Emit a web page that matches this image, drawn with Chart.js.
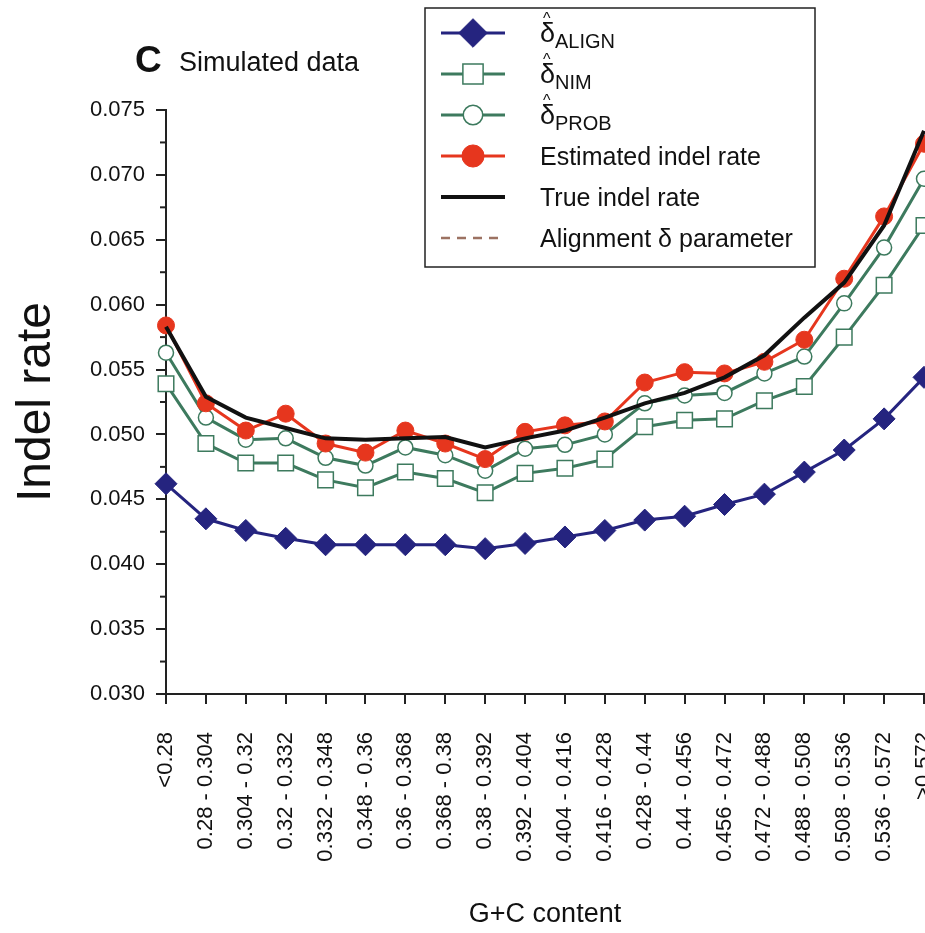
<!DOCTYPE html>
<html lang="en">
<head>
  <meta charset="UTF-8">
  <title>Indel rate vs G+C content (simulated data)</title>
  <script src="https://cdn.jsdelivr.net/npm/chart.js"></script>
  <style>
    body { margin: 0; background: #fff; }
    #wrap { width: 925px; height: 933px; }
  </style>
</head>
<body>
<div id="wrap"><canvas id="myChart" width="925" height="933"></canvas></div>

<script>
  // G+C content bins
  var gcBins = ['<0.28', '0.28 - 0.304', '0.304 - 0.32', '0.32 - 0.332', '0.332 - 0.348',
    '0.348 - 0.36', '0.36 - 0.368', '0.368 - 0.38', '0.38 - 0.392', '0.392 - 0.404',
    '0.404 - 0.416', '0.416 - 0.428', '0.428 - 0.44', '0.44 - 0.456', '0.456 - 0.472',
    '0.472 - 0.488', '0.488 - 0.508', '0.508 - 0.536', '0.536 - 0.572', '>0.572'];

  // values
  var deltaAlign = [0.0462, 0.0435, 0.0426, 0.0420, 0.0415, 0.0415, 0.0415, 0.0415, 0.0412, 0.0416,
    0.0421, 0.0426, 0.0434, 0.0437, 0.0446, 0.0454, 0.0471, 0.0488, 0.0512, 0.0544];
  var deltaNim = [0.0539, 0.0493, 0.0478, 0.0478, 0.0465, 0.0459, 0.0471, 0.0466, 0.0455, 0.0470,
    0.0474, 0.0481, 0.0506, 0.0511, 0.0512, 0.0526, 0.0537, 0.0575, 0.0615, 0.0661];
  var deltaProb = [0.0563, 0.0513, 0.0496, 0.0497, 0.0482, 0.0476, 0.0490, 0.0484, 0.0472, 0.0489,
    0.0492, 0.0500, 0.0524, 0.0530, 0.0532, 0.0547, 0.0560, 0.0601, 0.0644, 0.0697];
  var estimatedRate = [0.0584, 0.0524, 0.0503, 0.0516, 0.0493, 0.0486, 0.0503, 0.0493, 0.0481, 0.0502,
    0.0507, 0.0510, 0.0540, 0.0548, 0.0547, 0.0556, 0.0573, 0.0620, 0.0668, 0.0724];
  var trueRate = [0.0583, 0.0529, 0.0513, 0.0505, 0.0497, 0.0496, 0.0497, 0.0498, 0.0490, 0.0497,
    0.0503, 0.0513, 0.0524, 0.0532, 0.0544, 0.0561, 0.0590, 0.0617, 0.0661, 0.0734];
  var alignParam = []; // only shown in the legend

  var yMin = 0.030, yMax = 0.075, yStep = 0.005;

  var FONT = '"Liberation Sans", Arial, Helvetica, sans-serif';
  var BLUE = '#25247f', GREEN = '#3d7a5e', RED = '#e6361e', BLACK = '#111111', BROWN = '#9c7262';

  // legend + panel caption, drawn on top
  var legendBox = {
    id: 'legendBox',
    afterDraw: function(chart) {
      var ctx = chart.ctx;
      ctx.save();
      // panel caption
      ctx.fillStyle = '#111';
      ctx.textBaseline = 'alphabetic';
      ctx.font = 'bold 37px ' + FONT;
      ctx.fillText('C', 135, 72);
      ctx.font = '27px ' + FONT;
      ctx.fillText('Simulated data', 179, 71);

      // box
      ctx.fillStyle = '#fff';
      ctx.fillRect(425, 8, 390, 259);
      ctx.strokeStyle = '#222';
      ctx.lineWidth = 1.5;
      ctx.strokeRect(425, 8, 390, 259);

      var order = [4, 3, 2, 1, 0, 5];
      order.forEach(function(di, row) {
        var ds = chart.data.datasets[di];
        var y = 33 + row * 41;
        ctx.save();
        ctx.strokeStyle = ds.borderColor;
        ctx.lineWidth = ds.borderWidth;
        ctx.setLineDash(ds.borderDash || []);
        ctx.beginPath();
        ctx.moveTo(441, y);
        ctx.lineTo(505, y);
        ctx.stroke();
        ctx.restore();
        if (ds.pointRadius > 0) {
          ctx.save();
          ctx.fillStyle = ds.pointBackgroundColor;
          ctx.strokeStyle = ds.pointBorderColor;
          ctx.lineWidth = ds.pointBorderWidth;
          Chart.helpers.drawPoint(ctx, {
            pointStyle: ds.pointStyle, rotation: 0,
            radius: ds.pointRadius * 1.3, borderWidth: ds.pointBorderWidth
          }, 473, y);
          ctx.restore();
        }
        ctx.fillStyle = '#111';
        if (ds.sub) {
          ctx.font = '27px ' + FONT;
          ctx.fillText('δ', 540, y + 9);
          ctx.font = '16px ' + FONT;
          ctx.fillText('^', 543, y - 9);
          ctx.font = '20px ' + FONT;
          ctx.fillText(ds.sub, 555, y + 15);
        } else {
          ctx.font = '25px ' + FONT;
          ctx.fillText(ds.label, 540, y + 9);
        }
      });
      ctx.restore();
    }
  };

  // minor ticks on the y axis
  var minorTicks = {
    id: 'minorTicks',
    afterDraw: function(chart) {
      var ys = chart.scales.y, ctx = chart.ctx;
      ctx.save();
      ctx.strokeStyle = '#222';
      ctx.lineWidth = 2;
      for (var v = yMin + yStep / 2; v < yMax; v += yStep) {
        var py = ys.getPixelForValue(v);
        ctx.beginPath();
        ctx.moveTo(ys.right - 6, py);
        ctx.lineTo(ys.right, py);
        ctx.stroke();
      }
      ctx.restore();
    }
  };

  var ctx = document.getElementById('myChart').getContext('2d');
  var myChart = new Chart(ctx, {
    type: 'line',
    data: {
      labels: gcBins,
      datasets: [{
        label: 'True indel rate',
        data: trueRate,
        borderColor: BLACK,
        borderWidth: 4,
        pointRadius: 0,
        order: 0
      }, {
        label: 'Estimated indel rate',
        data: estimatedRate,
        borderColor: RED,
        borderWidth: 3,
        pointStyle: 'circle',
        pointRadius: 8.5,
        pointBackgroundColor: RED,
        pointBorderColor: RED,
        pointBorderWidth: 1,
        order: 1
      }, {
        label: 'δ̂ PROB',
        sub: 'PROB',
        data: deltaProb,
        borderColor: GREEN,
        borderWidth: 3,
        pointStyle: 'circle',
        pointRadius: 7.5,
        pointBackgroundColor: '#fff',
        pointBorderColor: GREEN,
        pointBorderWidth: 1.5,
        order: 2
      }, {
        label: 'δ̂ NIM',
        sub: 'NIM',
        data: deltaNim,
        borderColor: GREEN,
        borderWidth: 3,
        pointStyle: 'rect',
        pointRadius: 11,
        pointBackgroundColor: '#fff',
        pointBorderColor: GREEN,
        pointBorderWidth: 1.5,
        order: 3
      }, {
        label: 'δ̂ ALIGN',
        sub: 'ALIGN',
        data: deltaAlign,
        borderColor: BLUE,
        borderWidth: 3,
        pointStyle: 'rectRot',
        pointRadius: 11,
        pointBackgroundColor: BLUE,
        pointBorderColor: BLUE,
        pointBorderWidth: 1,
        order: 4
      }, {
        label: 'Alignment δ parameter',
        data: alignParam,
        borderColor: BROWN,
        borderWidth: 2.5,
        borderDash: [9, 7],
        pointRadius: 0,
        order: 5
      }]
    },
    options: {
      responsive: false,
      animation: false,
      layout: { autoPadding: false, padding: { top: 110, right: 1, left: 0, bottom: 0 } },
      elements: { line: { tension: 0 } },
      datasets: { line: { clip: false } },
      plugins: {
        legend: { display: false },
        tooltip: { enabled: false }
      },
      scales: {
        x: {
          offset: false,
          grid: { drawOnChartArea: false, drawTicks: true, tickLength: 10, color: '#222', lineWidth: 2 },
          border: { display: true, color: '#222', width: 2 },
          ticks: {
            autoSkip: false, minRotation: 90, maxRotation: 90, padding: 28,
            color: '#111', font: { family: FONT, size: 22 }
          },
          title: {
            display: true, text: 'G+C content', color: '#111',
            font: { family: FONT, size: 27 }, padding: { top: 0, bottom: 2 }
          },
          afterFit: function(scale) {
            scale.height = 933 - 694;
            scale.paddingLeft = 0;
            scale.paddingRight = 0;
          }
        },
        y: {
          min: yMin,
          max: yMax,
          grid: { drawOnChartArea: false, drawTicks: true, tickLength: 10, color: '#222', lineWidth: 2 },
          border: { display: true, color: '#222', width: 2 },
          ticks: {
            stepSize: yStep, padding: 11, color: '#111',
            font: { family: FONT, size: 22 },
            callback: function(v) { return v.toFixed(3); }
          },
          title: {
            display: true, text: 'Indel rate', color: '#111',
            font: { family: FONT, size: 48 }, padding: { top: 8, bottom: 0 }
          },
          afterFit: function(scale) {
            scale.width = 166;
            scale.paddingTop = 0;
            scale.paddingBottom = 0;
          }
        }
      }
    },
    plugins: [minorTicks, legendBox]
  });
</script>
</body>
</html>
